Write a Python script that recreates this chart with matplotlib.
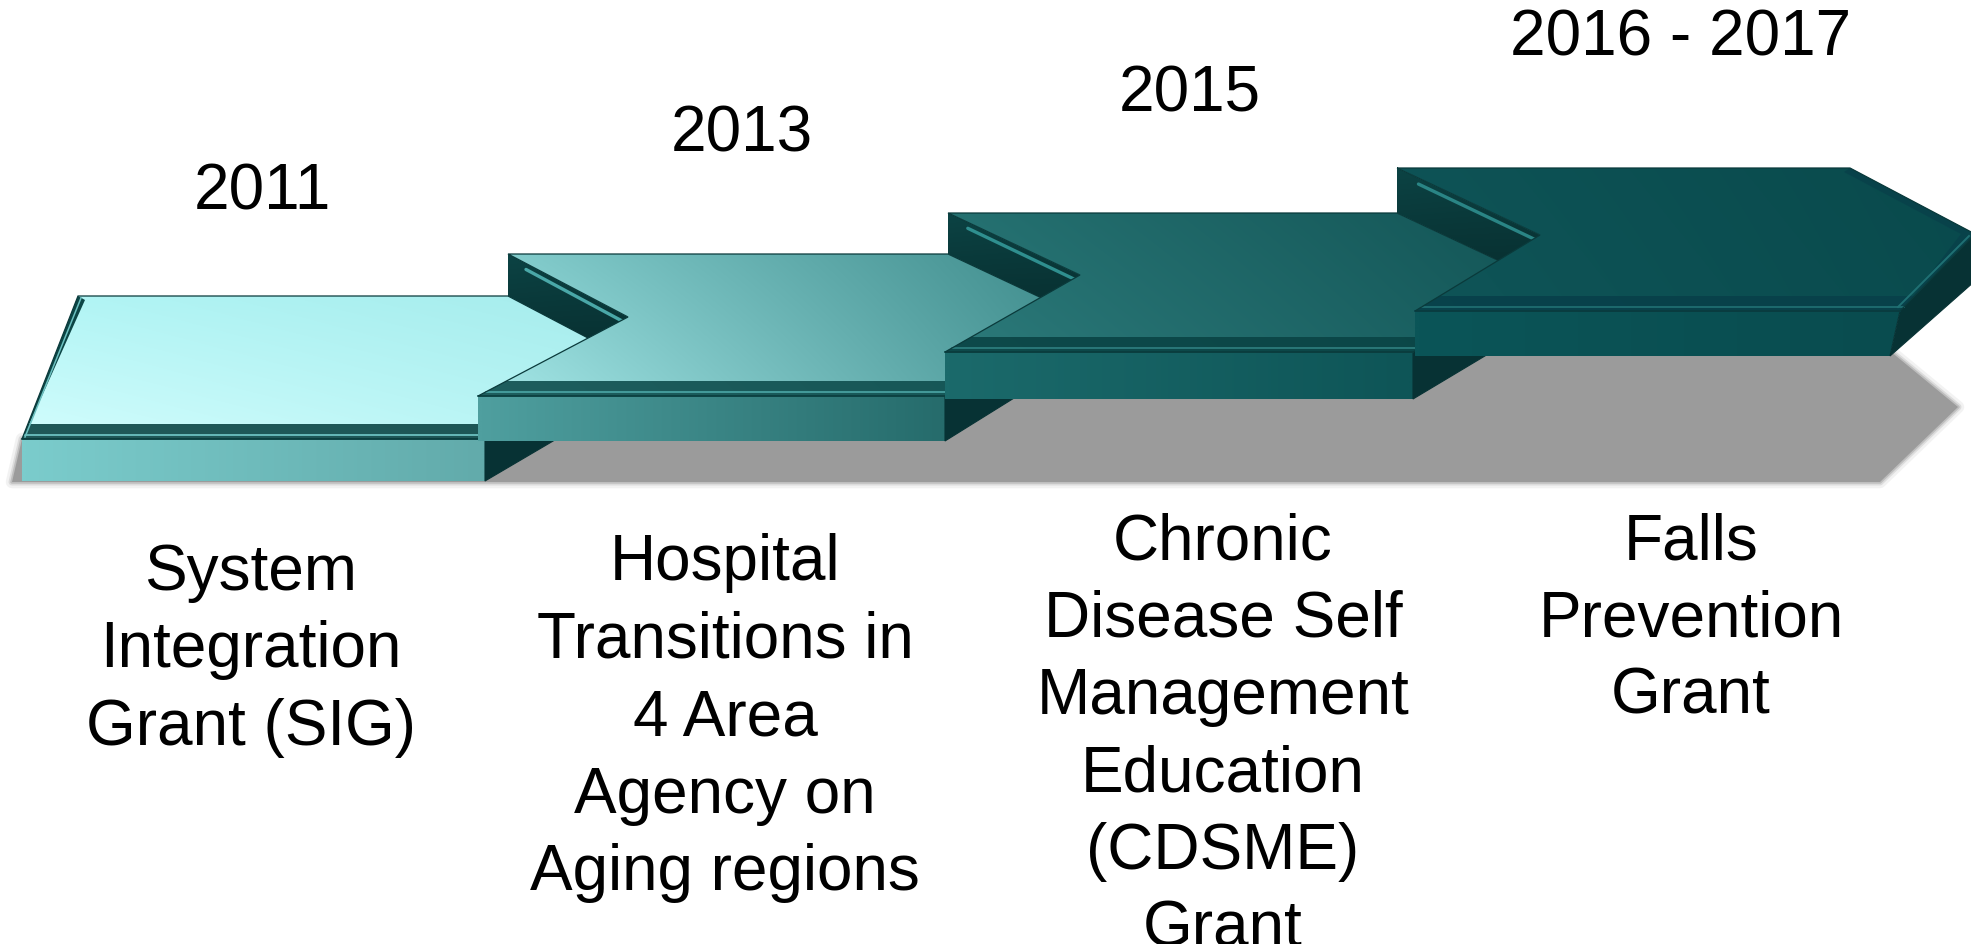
import numpy as np
import matplotlib.pyplot as plt
from matplotlib.patches import Polygon
from matplotlib.colors import to_rgb

# timeline content
years = ["2011", "2013", "2015", "2016 - 2017"]
programs = [
    ["System", "Integration", "Grant (SIG)"],
    ["Hospital", "Transitions in", "4 Area", "Agency on", "Aging regions"],
    ["Chronic", "Disease Self", "Management", "Education", "(CDSME)", "Grant"],
    ["Falls", "Prevention", "Grant"],
]

# layout in pixel coordinates (y grows downwards)
W, H = 1971, 945
year_xy = [(262, 192), (742, 134), (1190, 95), (1681, 39)]
label_x = [251, 725, 1223, 1691]
label_y0 = [573, 563, 542, 542]
line_step = 77.5

back_y = [297, 255, 214, 169]
front_y = [440, 397, 353, 312]
bottom_y = [482, 442, 400, 357]
back_left = [78, 508, 948, 1397]
front_left = [22, 478, 945, 1415]
front_right = [485, 945, 1413, 1900]
notch = [None, (628, 318), (1080, 276), (1540, 236)]
last_tip = (1975, 235)
last_back_right = 1850

top_cols = [
    ("#b2f5f5", "#a6ecec", "#d2fdfd", "#b6f4f4"),
    ("#86cfcf", "#3e8b8b", "#a6e8e8", "#4a9797"),
    ("#257171", "#135556", "#2c7a7a", "#175c5d"),
    ("#0e5356", "#094a4c", "#0f5558", "#0a4b4e"),
]
front_cols = [("#7bcccc", "#62abab"), ("#4f9f9f", "#266c6c"),
              ("#1b6a6b", "#0e5557"), ("#0b5558", "#094c4f")]
band_cols = ["#0c4545", "#0f4e4e", "#0a4445", "#08404a"]
line_cols = ["#6cc0c0", "#48a0a0", "#2c7c7c", "#1f6d70"]
ridge_cols = [None, "#4aa8a8", "#2f8f8f", "#2a8585"]
side_col = "#073234"


def shade(ax, verts, tl, tr, bl, br, z):
    poly = Polygon(verts, closed=True, fc="none", ec="none", zorder=z)
    ax.add_patch(poly)
    v = np.array(verts, dtype=float)
    x0, y0 = v.min(0)
    x1, y1 = v.max(0)
    u = np.linspace(0, 1, 64)
    U, V = np.meshgrid(u, u)
    c = [np.array(to_rgb(k)) for k in (tl, tr, bl, br)]
    img = (((1 - U) * (1 - V))[..., None] * c[0] + (U * (1 - V))[..., None] * c[1]
           + ((1 - U) * V)[..., None] * c[2] + (U * V)[..., None] * c[3])
    im = ax.imshow(img, extent=(x0, x1, y1, y0), origin="upper", aspect="auto",
                   interpolation="bilinear", zorder=z)
    im.set_clip_path(poly)
    return poly


def lerp(p, q, t):
    return (p[0] + (q[0] - p[0]) * t, p[1] + (q[1] - p[1]) * t)


fig = plt.figure(figsize=(W / 100, H / 100), dpi=100)
ax = fig.add_axes([0, 0, 1, 1])
ax.axis("off")

# ground shadow
shadow = [(12, 483), (1880, 483), (1958, 408), (1890, 352), (470, 352), (22, 440)]
for lw, a in [(9, 0.12), (5, 0.25), (2.5, 0.45)]:
    ax.add_patch(Polygon(shadow, closed=True, fc="none", ec="#9b9b9b", lw=lw,
                         alpha=a, joinstyle="round", zorder=1))
ax.add_patch(Polygon(shadow, closed=True, fc="#9b9b9b", ec="none", zorder=1))

n = len(years)
for k in range(n):
    z = 10 + 10 * k
    by, fy, bot = back_y[k], front_y[k], bottom_y[k]
    bl, fl, fr = back_left[k], front_left[k], front_right[k]
    if k < n - 1:
        dh = back_y[k] - back_y[k + 1]
        br = back_left[k + 1]
        tip = (notch[k + 1][0], notch[k + 1][1] + dh)
    else:
        br = last_back_right
        tip = last_tip

    # notch wall (step up from previous arrow)
    if notch[k] is not None:
        nx, ny = notch[k]
        dh0 = back_y[k - 1] - by
        wall = [(bl, by), (nx, ny), (nx, ny + dh0), (bl, by + dh0)]
        shade(ax, wall, "#0c4344", "#0b3f40", "#072e2f", "#082f30", z)
        a0 = lerp((bl, by), (nx, ny), 0.15)
        ax.plot([a0[0], nx - 4], [a0[1] + 6, ny + 5], color=ridge_cols[k],
                lw=2.4, solid_capstyle="round", zorder=z + 0.5)

    # front and side faces
    fr_bot = fr - 10 if k == n - 1 else fr
    front = [(fl, fy), (fr, fy), (fr_bot, bot), (fl, bot)]
    shade(ax, front, front_cols[k][0], front_cols[k][1],
          front_cols[k][0], front_cols[k][1], z + 1)
    tip_drop = 47 if k == n - 1 else bot - fy - 4
    side = [(fr, fy), (fr_bot, bot), (tip[0], tip[1] + tip_drop), tip]
    ax.add_patch(Polygon(side, closed=True, fc=side_col, ec=side_col, lw=0.8, zorder=z + 1))

    # top face
    if notch[k] is None:
        top = [(bl, by), (br, by), tip, (fr, fy), (fl, fy)]
        left_a, left_b = (bl, by), (fl, fy)
    else:
        top = [(bl, by), (br, by), tip, (fr, fy), (fl, fy), notch[k]]
        left_a, left_b = notch[k], (fl, fy)
    tc = top_cols[k]
    shade(ax, top, tc[0], tc[1], tc[2], tc[3], z + 2)

    # bevel along the front edge
    t = 15.0 / (fy - left_a[1])
    pl = lerp(left_b, left_a, t)
    pr = lerp((fr, fy), tip, 15.0 / (fy - tip[1]))
    band = [pl, pr, (fr, fy), (fl, fy)]
    ax.add_patch(Polygon(band, closed=True, fc=band_cols[k], ec="none", alpha=0.9, zorder=z + 3))
    pl2 = lerp(left_b, left_a, 4.0 / (fy - left_a[1]))
    pr2 = lerp((fr, fy), tip, 4.0 / (fy - tip[1]))
    ax.plot([pl2[0], pr2[0]], [pl2[1], pr2[1]], color=line_cols[k], lw=1.3, zorder=z + 4)
    ax.plot([fl, fr], [fy, fy], color=band_cols[k], lw=1.2, zorder=z + 4)

    # bevel along the left edge of the first arrow
    if k == 0:
        off = 7
        ax.add_patch(Polygon([(bl, by), (bl + off, by + 4), (fl + off, fy - 14), (fl, fy)],
                             closed=True, fc=band_cols[k], ec="none", zorder=z + 3))
        ax.plot([bl + 3, fl + 3], [by + 2, fy - 2], color=line_cols[k], lw=1.1, zorder=z + 4)

    # bevel along the tip of the last arrow
    if k == n - 1:
        ax.add_patch(Polygon([(br, by), tip, (fr, fy), lerp((fr, fy), tip, 0.08),
                              (tip[0] - 14, tip[1]), (br - 6, by + 4)],
                             closed=True, fc=band_cols[k], ec="none", alpha=0.8, zorder=z + 3))
        ax.plot([fr - 2, tip[0] - 6], [fy - 4, tip[1] + 2], color="#1f7073",
                lw=1.4, zorder=z + 4)

    # crisp outline of the top face
    ax.add_patch(Polygon(top, closed=True, fc="none", ec="#0a3a3b", lw=0.9, zorder=z + 5))

# text
for k in range(n):
    ax.text(year_xy[k][0], year_xy[k][1], years[k], ha="center", va="center",
            fontsize=46, family="Liberation Sans", color="black", zorder=100)
    for i, line in enumerate(programs[k]):
        ax.text(label_x[k], label_y0[k] + i * line_step, line, ha="center",
                va="center", fontsize=46, family="Liberation Sans", color="black",
                zorder=100)

ax.set_xlim(0, W)
ax.set_ylim(H, 0)
fig.savefig("out.png", dpi=100, facecolor="white")
